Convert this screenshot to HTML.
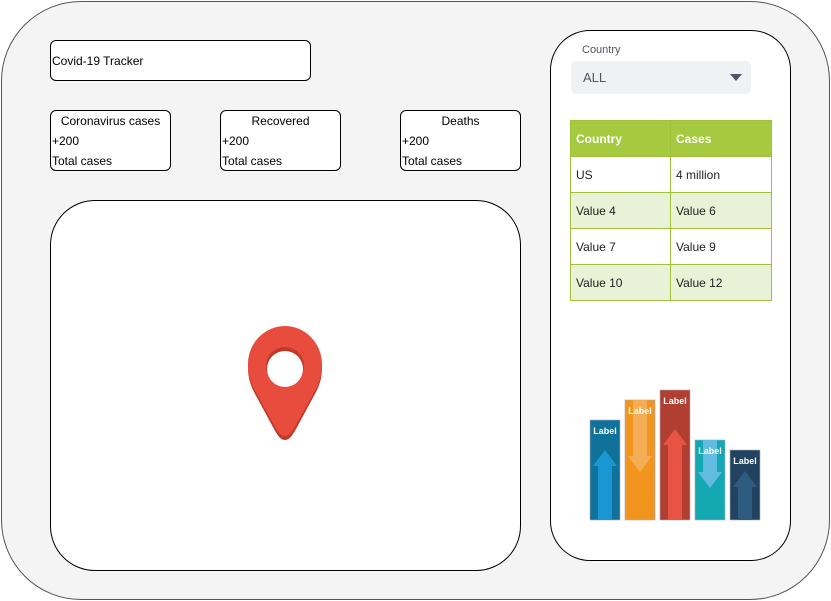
<!DOCTYPE html>
<html><head><meta charset="utf-8"><style>
body{margin:0;width:831px;height:601px;background:#fff;font-family:"Liberation Sans",sans-serif;position:relative;overflow:hidden}
.a{position:absolute;box-sizing:border-box}
.card{border:1px solid #000;border-radius:6px;background:#fff;font-size:12px}
.card div{position:absolute;left:1px}
td{border:1px solid #9fc23a;padding:0 0 0 5px;font-size:12px;color:#222;height:36px;box-sizing:border-box}
</style></head><body>
<div class="a" style="left:1px;top:1px;width:829px;height:599px;border:1px solid #555;border-radius:80px;background:#f4f4f4"></div>
<div class="a card" style="left:50px;top:40px;width:261px;height:41px;font-size:12px"><div style="top:13px">Covid-19 Tracker</div></div>

<div class="a card" style="left:50px;top:110px;width:121px;height:61px"><div style="top:3px;left:0;width:119px;text-align:center">Coronavirus cases</div><div style="top:23px">+200</div><div style="top:43px">Total cases</div></div>
<div class="a card" style="left:220px;top:110px;width:121px;height:61px"><div style="top:3px;left:0;width:119px;text-align:center">Recovered</div><div style="top:23px">+200</div><div style="top:43px">Total cases</div></div>
<div class="a card" style="left:400px;top:110px;width:121px;height:61px"><div style="top:3px;left:0;width:119px;text-align:center">Deaths</div><div style="top:23px">+200</div><div style="top:43px">Total cases</div></div>

<div class="a" style="left:50px;top:200px;width:471px;height:371px;border:1px solid #000;border-radius:45px;background:#fff"></div>
<svg class="a" style="left:240px;top:320px" width="90" height="125" viewBox="240 320 90 125">
<path d="M285,440 C280,440 277,434 274,429 L254,392 C250,384 248,377 248,368 C248,347 265,329 285,329 C305,329 322,347 322,368 C322,377 320,384 316,392 L296,429 C293,434 290,440 285,440Z" fill="#c0392b"/>
<path d="M285,436 C280,436 277,430 274,425 L254,389 C250,381 248,374 248,364 C248,343 265,326 285,326 C305,326 322,343 322,364 C322,374 320,381 316,389 L296,425 C293,430 290,436 285,436Z" fill="#e74c3c"/>
<circle cx="285" cy="366" r="19" fill="#c0392b"/><circle cx="285" cy="369" r="18" fill="#fff"/>
</svg>

<div class="a" style="left:550px;top:30px;width:241px;height:531px;border:1px solid #000;border-radius:40px;background:#fff"></div>
<div class="a" style="left:582px;top:44px;font-size:11px;color:#556">Country</div>
<div class="a" style="left:571px;top:61px;width:180px;height:33px;background:#f0f1f3;border-radius:5px;font-size:13px;color:#556"><span style="position:absolute;left:12px;top:9px">ALL</span><span style="position:absolute;right:9px;top:13px;width:0;height:0;border-left:6px solid transparent;border-right:6px solid transparent;border-top:7px solid #556"></span></div>

<table class="a" style="left:570px;top:120px;width:202px;border-collapse:collapse">
<tr style="background:#a5c93f;color:#fff"><td style="color:#fff;font-weight:bold;height:35px;width:100px">Country</td><td style="color:#fff;font-weight:bold">Cases</td></tr>
<tr><td>US</td><td>4 million</td></tr>
<tr style="background:#e9f1d6"><td>Value 4</td><td>Value 6</td></tr>
<tr><td>Value 7</td><td>Value 9</td></tr>
<tr style="background:#e9f1d6"><td>Value 10</td><td>Value 12</td></tr>
</table>

<svg class="a" id="chart" style="left:580px;top:380px" width="190" height="150"></svg>
<script>
const categories=["Label","Label","Label","Label","Label"];
const values=[100,120,130,80,70];
const arrowDir=["up","down","up","down","up"];
const colors=["#10719a","#f2951f","#b03f31","#13a8b2","#21435f"];
const arrowColors=["#1a97d3","#f5ad55","#e85443","#62bce0","#2e5b80"];
const svg=document.getElementById('chart');const NS='http://www.w3.org/2000/svg';
const baseY=140,scale=1,x0=10,step=35,bw=30;
function xPos(i){return x0+i*step}
function yPos(v){return baseY-v*scale}
values.forEach((v,i)=>{
 const x=xPos(i),y=yPos(v),h=baseY-y;
 const r=document.createElementNS(NS,'rect');
 
 
 r.setAttribute('x',x);r.setAttribute('y',y);r.setAttribute('width',bw);r.setAttribute('height',h);
 r.setAttribute('fill',colors[i]);r.setAttribute('stroke','#aab');r.setAttribute('stroke-width','0.6');svg.appendChild(r);
 const p=document.createElementNS(NS,'path');
 
 
 const cx=x+bw/2;let d;
 if(arrowDir[i]=='up'){const t=y+h*0.3;d=`M${cx-7},${baseY} L${cx-7},${t+16} L${cx-12},${t+16} L${cx},${t} L${cx+12},${t+16} L${cx+7},${t+16} L${cx+7},${baseY}Z`;}
 else{const b=y+h*0.6;d=`M${cx-7},${y} L${cx-7},${b-16} L${cx-12},${b-16} L${cx},${b} L${cx+12},${b-16} L${cx+7},${b-16} L${cx+7},${y}Z`;}
 p.setAttribute('d',d);p.setAttribute('fill',arrowColors[i]);svg.appendChild(p);
 const t=document.createElementNS(NS,'text');
 
 
 t.setAttribute('x',cx);t.setAttribute('y',y+14);t.setAttribute('text-anchor','middle');t.setAttribute('font-size','9');t.setAttribute('font-weight','bold');t.setAttribute('fill','#fff');t.setAttribute('font-family','Liberation Sans, sans-serif');
 t.textContent=categories[i];svg.appendChild(t);
});
</script>
</body></html>
